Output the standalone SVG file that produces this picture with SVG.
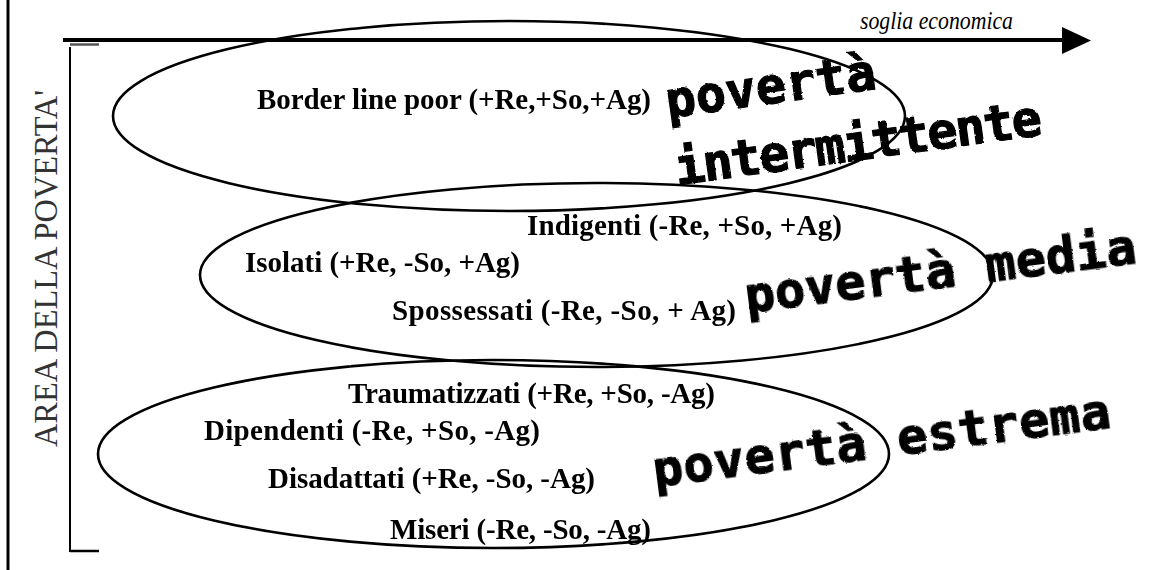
<svg xmlns="http://www.w3.org/2000/svg" width="1172" height="570" viewBox="0 0 1172 570">
  <style>
    .lbl { font-family: "Liberation Serif", "Times New Roman", serif; font-weight: bold; font-size: 29px; fill: #000; }
    .big { font-family: "DejaVu Sans Mono", monospace; font-weight: bold; font-size: 50px; fill: #000; stroke: #000; stroke-width: 1.2; }
    .ell { fill: none; stroke: #000; stroke-width: 2.6; }
    .axis { stroke: #000; fill: none; }
  </style>
  <defs>
    <filter id="rough" x="-5%" y="-20%" width="110%" height="140%">
      <feTurbulence type="fractalNoise" baseFrequency="0.35" numOctaves="1" seed="3" result="n"/>
      <feDisplacementMap in="SourceGraphic" in2="n" scale="2.5" xChannelSelector="R" yChannelSelector="G"/>
    </filter>
  </defs>
  <rect width="1172" height="570" fill="#fff"/>

  <g id="frame">
    <line class="axis" x1="8" y1="0" x2="8" y2="570" stroke-width="3"/>
    <line class="axis" x1="70" y1="47" x2="70" y2="552" stroke-width="2"/>
    <line x1="70" y1="44.5" x2="99" y2="44.5" stroke="#555" stroke-width="2.5"/>
    <line class="axis" x1="70" y1="551" x2="99" y2="551" stroke-width="2.5"/>
    <text x="57" y="268.5" transform="rotate(-90 57 268.5)" text-anchor="middle" font-family="Liberation Serif, 'Times New Roman', serif" font-size="34" fill="#333" textLength="357" lengthAdjust="spacingAndGlyphs">AREA DELLA POVERTA'</text>
  </g>

  <g id="threshold">
    <line class="axis" x1="63" y1="40" x2="1063" y2="40" stroke-width="4"/>
    <polygon points="1062,27 1091,40.5 1062,54" fill="#000"/>
    <text x="860" y="29" font-family="Liberation Serif, 'Times New Roman', serif" font-style="italic" font-size="26" textLength="153" lengthAdjust="spacingAndGlyphs">soglia economica</text>
  </g>

  <g id="level-labels" filter="url(#rough)">
    <text class="big" x="668" y="118" transform="rotate(-8 668 118)" textLength="212">povertà</text>
    <text class="big" x="677" y="185" transform="rotate(-7.8 677 185)" textLength="370">intermittente</text>
    <text class="big" x="747" y="313" transform="rotate(-7.3 747 313)" textLength="394">povertà media</text>
    <text class="big" x="655" y="487" transform="rotate(-7.4 655 487)" textLength="461">povertà estrema</text>
  </g>

  <g id="node-intermittente">
    <ellipse class="ell" cx="509" cy="116" rx="396" ry="95"/>
    <text class="lbl" x="257" y="109" textLength="394">Border line poor (+Re,+So,+Ag)</text>
  </g>

  <g id="node-media">
    <ellipse class="ell" cx="596.5" cy="275" rx="396.5" ry="92"/>
    <text class="lbl" x="527" y="235" textLength="315">Indigenti (-Re, +So, +Ag)</text>
    <text class="lbl" x="245" y="272" textLength="275">Isolati (+Re, -So, +Ag)</text>
    <text class="lbl" x="392" y="320" textLength="344">Spossessati (-Re, -So, + Ag)</text>
  </g>

  <g id="node-estrema">
    <ellipse class="ell" cx="493.5" cy="454" rx="395.5" ry="94"/>
    <text class="lbl" x="348" y="403" textLength="367">Traumatizzati (+Re, +So, -Ag)</text>
    <text class="lbl" x="204" y="440" textLength="336">Dipendenti (-Re, +So, -Ag)</text>
    <text class="lbl" x="268" y="488" textLength="327">Disadattati (+Re, -So, -Ag)</text>
    <text class="lbl" x="390" y="539" textLength="261">Miseri (-Re, -So, -Ag)</text>
  </g>
</svg>
